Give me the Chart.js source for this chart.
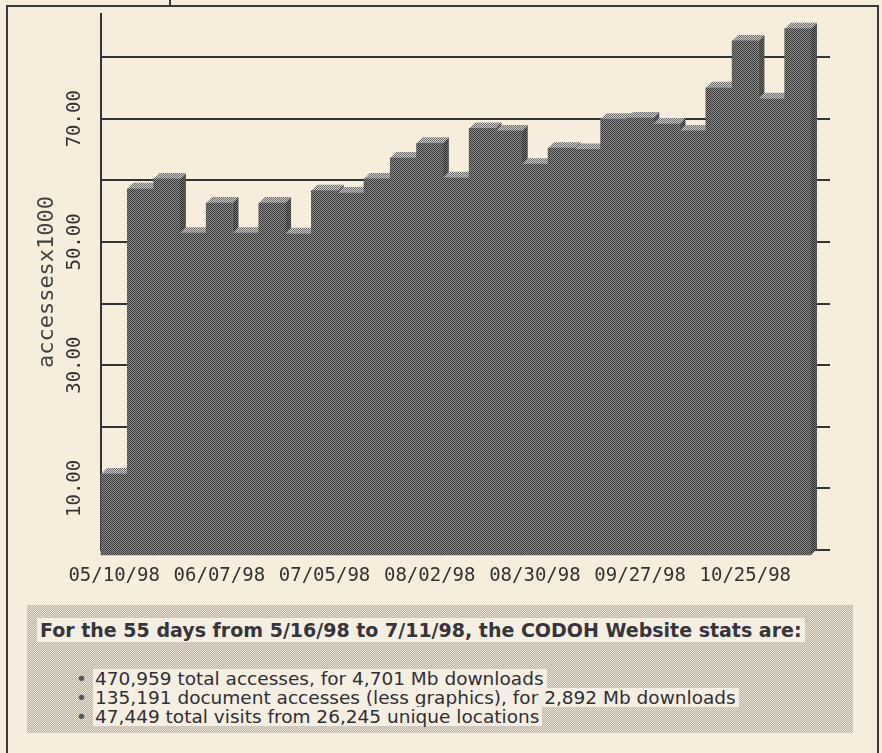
<!DOCTYPE html>
<html>
<head>
<meta charset="utf-8">
<script src="https://cdn.jsdelivr.net/npm/chart.js@4.4.1/dist/chart.umd.min.js"></script>
<style>
  html, body { margin: 0; padding: 0; }
  body { width: 882px; height: 753px; background: #f6eddd; position: relative; overflow: hidden;
         font-family: "DejaVu Sans", sans-serif; color: #2f2f33; }
  #frame { position: absolute; left: 6px; top: 5px; width: 869px; height: 760px; border: 2px solid #3a3a3a; }
  #stub { position: absolute; left: 169px; top: 0; width: 2px; height: 6px; background: #3a3a3a; }
  #wrap { position: absolute; left: 0; top: 0; }
  #stats { position: absolute; left: 27px; top: 605px; width: 826px; height: 128px;
           background: repeating-conic-gradient(#b3b1ac 0 25%, #e9e1d3 0 50%) 0 0 / 2px 2px; }
  .head { position: absolute; left: 10px; top: 13px; font-weight: bold; font-size: 19px; line-height: 24px;
          background: #f5eee3; padding: 0 3px; white-space: nowrap; color: #35353a; }
  .item { position: absolute; left: 66px; font-size: 18.5px; line-height: 19px; background: #f5eee3;
          padding: 0 3px 0 2px; white-space: nowrap; color: #303034; }
  .item .dot { position: absolute; left: -17px; top: 0; color: #55555a; }
</style>
</head>
<body>
<div id="stub"></div>
<div id="frame"></div>
<div id="wrap"><canvas id="chart" width="882" height="600"></canvas></div>
<div id="stats">
  <div class="head">For the 55 days from 5/16/98 to 7/11/98, the CODOH Website stats are:</div>
  <div class="item" style="top:64px"><span class="dot">&bull;</span>470,959 total accesses, for 4,701 Mb downloads</div>
  <div class="item" style="top:83px"><span class="dot">&bull;</span>135,191 document accesses (less graphics), for 2,892 Mb downloads</div>
  <div class="item" style="top:102px"><span class="dot">&bull;</span>47,449 total visits from 26,245 unique locations</div>
</div>
<script>
// weekly accesses, in thousands
const weeks = ['05/10/98', '05/17/98', '05/24/98', '05/31/98', '06/07/98', '06/14/98', '06/21/98',
  '06/28/98', '07/05/98', '07/12/98', '07/19/98', '07/26/98', '08/02/98', '08/09/98', '08/16/98',
  '08/23/98', '08/30/98', '09/06/98', '09/13/98', '09/20/98', '09/27/98', '10/04/98', '10/11/98',
  '10/18/98', '10/25/98', '11/01/98', '11/08/98'];
const accesses = [13.3, 59.6, 61.2, 52.4, 57.3, 52.4, 57.3, 52.3, 59.3, 58.9, 61.2, 64.6, 67.0, 61.4,
  69.4, 69.0, 63.6, 66.2, 66.0, 70.9, 71.1, 70.1, 69.0, 76.0, 83.6, 74.2, 85.6];
const yTickLabels = [10, 30, 50, 70];

const depth = 6;

function dither(dark, light) {
    const c = document.createElement('canvas');
    c.width = 2; c.height = 2;
    const g = c.getContext('2d');
    g.fillStyle = light; g.fillRect(0, 0, 2, 2);
    g.fillStyle = dark; g.fillRect(0, 0, 1, 1); g.fillRect(1, 1, 1, 1);
    return g.createPattern(c, 'repeat');
}
const frontPattern = dither('#3a3a3a', '#8c8c8c');
const topPattern = dither('#6a6a6a', '#cdcdcd');
const sidePattern = dither('#303030', '#727272');

// draws the top and side of each bar, then shifts the fronts down
const depth3d = {
    id: 'depth3d',
    beforeDatasetsDraw(chart) {
        const ctx = chart.ctx;
        chart.getDatasetMeta(0).data.forEach(function (bar) {
            const p = bar.getProps(['x', 'y', 'base', 'width'], true);
            const l = p.x - p.width / 2, r = p.x + p.width / 2;
            ctx.fillStyle = sidePattern;
            ctx.beginPath();
            ctx.moveTo(r, p.y + depth); ctx.lineTo(r + depth, p.y);
            ctx.lineTo(r + depth, p.base); ctx.lineTo(r, p.base + depth);
            ctx.closePath(); ctx.fill();
            ctx.fillStyle = topPattern;
            ctx.beginPath();
            ctx.moveTo(l, p.y + depth); ctx.lineTo(l + depth, p.y);
            ctx.lineTo(r + depth, p.y); ctx.lineTo(r, p.y + depth);
            ctx.closePath(); ctx.fill();
        });
        ctx.save();
        ctx.translate(0, depth);
    },
    afterDatasetsDraw(chart) {
        chart.ctx.restore();
    }
};

Chart.defaults.font.family = '"DejaVu Sans Mono", monospace';

const context = document.getElementById('chart').getContext('2d');
const chart = new Chart(context, {
    type: 'bar',
    data: {
        labels: weeks,
        datasets: [{
            data: accesses,
            backgroundColor: frontPattern,
            borderWidth: 0,
            barPercentage: 1,
            categoryPercentage: 1,
            clip: false
        }]
    },
    options: {
        responsive: false,
        animation: false,
        layout: { padding: { left: 20, right: 52, top: 14, bottom: 10 } },
        plugins: { legend: { display: false }, tooltip: { enabled: false } },
        scales: {
            x: {
                grid: { display: false, drawTicks: false },
                border: { display: false },
                ticks: {
                    autoSkip: false, maxRotation: 0, minRotation: 0, padding: 15,
                    font: { size: 19 }, color: '#333',
                    callback: function (v, i) { return i % 4 === 0 ? weeks[i] : ''; }
                },
                afterFit: function (s) { s.height = 40; }
            },
            y: {
                min: 0, max: 87,
                grid: { color: '#333', lineWidth: 2, drawTicks: false },
                border: { color: '#333', width: 2 },
                ticks: {
                    stepSize: 10, includeBounds: false, autoSkip: false,
                    minRotation: 90, maxRotation: 90, crossAlign: 'center', padding: -3,
                    font: { size: 19 }, color: '#333',
                    callback: function (v) { return yTickLabels.includes(v) ? v.toFixed(2) : ''; }
                },
                title: {
                    display: true, text: 'accessesx1000', color: '#444',
                    font: { size: 22 }, padding: { top: 14, bottom: 0 }
                },
                afterFit: function (s) { s.width = 81; }
            },
            y2: {
                position: 'right',
                min: 0, max: 87,
                grid: { drawOnChartArea: false, drawTicks: true, tickLength: 19, color: '#333', lineWidth: 2 },
                border: { display: false },
                ticks: { stepSize: 10, includeBounds: false, display: false },
                afterFit: function (s) { s.width = 19; }
            }
        }
    },
    plugins: [depth3d]
});
</script>
</body>
</html>
